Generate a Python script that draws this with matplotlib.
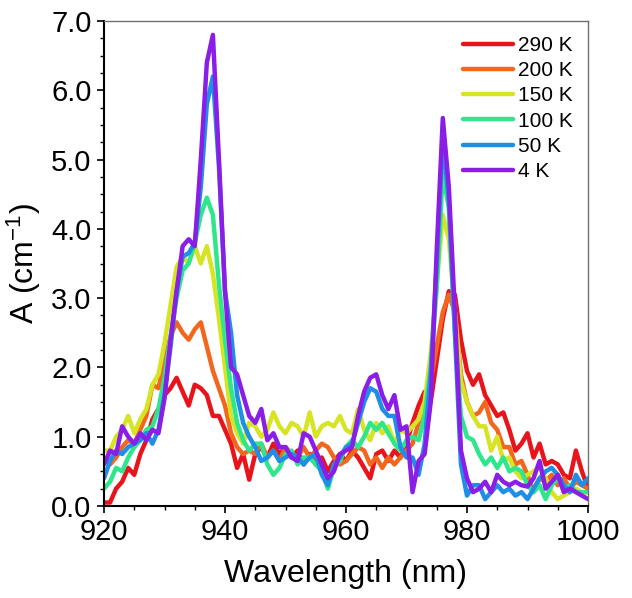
import matplotlib
matplotlib.use("Agg")
import matplotlib.pyplot as plt
import numpy as np

plt.rcParams['font.family'] = ['Liberation Sans', 'DejaVu Sans']
plt.rcParams['mathtext.default'] = 'regular'

wavelength = list(range(920, 1001))

labels = ["290 K", "200 K", "150 K", "100 K", "50 K", "4 K"]
colors = ["#e8141b", "#f2661e", "#d6e424", "#2ee68c", "#1f8fe6", "#8a1ee6"]

a_290 = [0.05, 0.05, 0.25, 0.35, 0.55, 0.45, 0.75, 0.95, 1.25, 1.40,
         1.60, 1.70, 1.85, 1.65, 1.45, 1.75, 1.70, 1.60, 1.30, 1.30,
         1.10, 0.90, 0.55, 0.75, 0.38, 0.75, 0.85, 0.70, 0.90, 0.75,
         0.85, 0.70, 0.80, 0.60, 0.75, 0.60, 0.70, 0.50, 0.65, 0.75,
         0.65, 0.80, 0.70, 0.55, 0.40, 0.75, 0.80, 0.65, 0.80, 0.70,
         0.90, 1.20, 1.45, 1.65, 1.50, 2.10, 2.70, 3.10, 3.05, 2.40,
         1.95, 1.75, 1.90, 1.60, 1.45, 1.30, 1.35, 1.10, 0.80, 0.90,
         1.05, 0.70, 0.90, 0.60, 0.65, 0.60, 0.45, 0.40, 0.80, 0.50,
         0.25]
a_200 = [0.70, 0.60, 0.70, 0.85, 0.95, 0.90, 1.10, 1.30, 1.75, 1.70,
         2.10, 2.45, 2.65, 2.50, 2.40, 2.55, 2.65, 2.30, 1.95, 1.70,
         1.45, 1.05, 0.85, 0.75, 0.80, 0.75, 0.90, 0.70, 0.80, 0.65,
         0.85, 0.75, 0.70, 0.85, 0.70, 0.80, 0.90, 0.85, 0.70, 0.60,
         0.65, 0.75, 0.85, 0.80, 0.60, 0.70, 0.55, 0.70, 0.60, 0.70,
         0.80, 0.90, 1.20, 1.50, 1.80, 2.30, 2.80, 3.05, 2.80, 1.90,
         1.50, 1.30, 1.35, 1.50, 1.20, 1.10, 0.85, 0.85, 0.60, 0.65,
         0.45, 0.20, 0.40, 0.35, 0.45, 0.30, 0.40, 0.25, 0.35, 0.30,
         0.25]
a_150 = [0.80, 0.80, 1.00, 1.10, 1.30, 1.05, 1.25, 1.40, 1.75, 1.90,
         2.35, 2.90, 3.45, 3.60, 3.50, 3.75, 3.50, 3.75, 3.35, 2.70,
         2.00, 1.30, 1.05, 0.90, 1.20, 1.15, 1.00, 1.10, 1.35, 1.15,
         1.05, 1.20, 1.15, 1.00, 1.35, 1.00, 1.15, 1.20, 1.15, 1.30,
         1.10, 1.05, 1.40, 1.10, 0.95, 1.20, 1.05, 1.15, 0.90, 1.10,
         1.05, 1.15, 1.25, 1.50, 2.20, 3.20, 4.20, 3.85, 2.80, 1.80,
         1.50, 1.30, 1.15, 1.15, 0.80, 1.00, 0.65, 0.70, 0.50, 0.40,
         0.45, 0.50, 0.55, 0.40, 0.20, 0.10, 0.15, 0.20, 0.25, 0.20,
         0.20]
a_100 = [0.25, 0.35, 0.55, 0.50, 0.70, 0.85, 0.95, 1.10, 1.15, 1.40,
         1.85, 2.45, 3.00, 3.40, 3.50, 3.80, 4.20, 4.45, 4.20, 3.20,
         2.40, 1.70, 1.20, 0.95, 0.80, 0.90, 0.90, 0.60, 0.45, 0.55,
         0.75, 0.80, 0.60, 0.70, 0.70, 0.60, 0.50, 0.25, 0.55, 0.65,
         0.85, 0.95, 0.85, 1.00, 1.20, 1.10, 1.20, 1.05, 0.90, 0.80,
         0.95, 1.00, 0.95, 1.30, 2.00, 3.15, 4.80, 4.30, 2.50, 1.30,
         1.00, 0.95, 0.75, 0.60, 0.70, 0.55, 0.70, 0.50, 0.55, 0.50,
         0.30, 0.20, 0.30, 0.10, 0.30, 0.40, 0.25, 0.30, 0.20, 0.20,
         0.20]
a_50 = [0.40, 0.65, 0.80, 0.75, 0.85, 0.90, 0.95, 1.05, 0.90, 1.10,
        1.60, 2.30, 3.10, 3.60, 3.65, 3.80, 4.60, 5.80, 6.20, 4.90,
        3.10, 2.50, 1.60, 1.20, 1.00, 0.85, 0.65, 0.70, 0.80, 0.65,
        0.70, 0.75, 0.70, 0.60, 0.70, 0.75, 0.45, 0.30, 0.60, 0.70,
        0.85, 0.90, 1.20, 1.50, 1.70, 1.65, 1.40, 1.30, 1.30, 0.85,
        0.70, 0.70, 0.45, 0.90, 1.90, 3.50, 5.30, 4.40, 2.50, 0.60,
        0.15, 0.30, 0.30, 0.10, 0.20, 0.30, 0.20, 0.25, 0.15, 0.20,
        0.10, 0.25, 0.40, 0.50, 0.55, 0.45, 0.30, 0.20, 0.45, 0.30,
        0.40]
a_4 = [0.60, 0.80, 0.75, 1.15, 1.00, 0.90, 1.05, 0.95, 1.10, 1.05,
       1.55, 2.40, 3.10, 3.75, 3.85, 3.75, 5.00, 6.40, 6.80, 5.00,
       3.10, 2.00, 1.90, 1.60, 1.30, 1.20, 1.40, 0.95, 1.05, 0.85,
       0.85, 0.70, 0.65, 1.05, 1.00, 0.80, 0.60, 0.40, 0.50, 0.75,
       0.80, 0.85, 1.30, 1.65, 1.85, 1.90, 1.60, 1.40, 1.60, 1.10,
       1.15, 0.20, 0.65, 0.75, 1.50, 3.70, 5.60, 4.60, 2.80, 0.80,
       0.40, 0.20, 0.25, 0.35, 0.20, 0.45, 0.35, 0.30, 0.35, 0.30,
       0.28, 0.40, 0.65, 0.25, 0.35, 0.45, 0.20, 0.25, 0.20, 0.15,
       0.10]

series = [a_290, a_200, a_150, a_100, a_50, a_4]

fig = plt.figure(figsize=(6.32, 5.98), dpi=100)
ax = fig.add_axes([104/632, 1 - 506/598, (588-104)/632, (506-21)/598])

for vals, lab, col in zip(series, labels, colors):
    ax.plot(wavelength, vals, color=col, lw=3.2, label=lab,
            solid_joinstyle='round', solid_capstyle='round')

ax.set_xlim(920, 1000)
ax.set_ylim(0, 7)
ax.set_xticks(range(920, 1001, 20))
ax.set_xticks(range(920, 1001, 5), minor=True)
ax.set_yticks(np.arange(0, 7.01, 1.0))
ax.set_yticks(np.arange(0, 7.01, 0.25), minor=True)
ax.set_yticklabels([f"{v:.1f}" for v in np.arange(0, 7.01, 1.0)])

ax.tick_params(axis='both', which='major', direction='out', length=5,
               width=1.2, labelsize=21, pad=4)
ax.tick_params(axis='both', which='minor', direction='out', length=3,
               width=1.0)
ax.tick_params(top=False, right=False, which='both')

for s in ['left', 'bottom']:
    ax.spines[s].set_linewidth(1.5)
    ax.spines[s].set_color('black')
for s in ['top', 'right']:
    ax.spines[s].set_linewidth(1.0)
    ax.spines[s].set_color('#707070')

ax.set_xlabel("Wavelength (nm)", fontsize=23, labelpad=9)
ax.set_ylabel("A (cm$^{-1}$)", fontsize=23, labelpad=6)

leg = ax.legend(loc='upper right', frameon=False, fontsize=15,
                handlelength=2.4, handletextpad=0.25, labelspacing=0.3,
                borderaxespad=0.2, bbox_to_anchor=(0.995, 0.995))
for line in leg.get_lines():
    line.set_linewidth(3.2)

fig.savefig("out.png", dpi=100)
